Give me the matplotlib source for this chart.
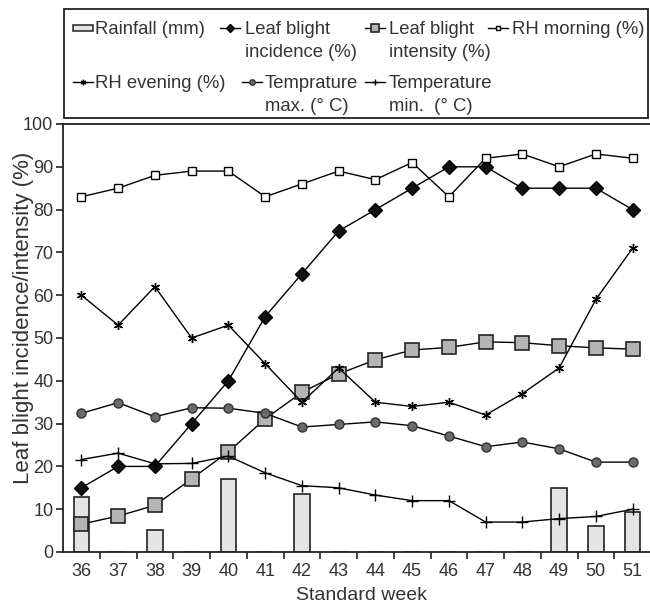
import matplotlib.pyplot as plt
import numpy as np
from matplotlib.lines import Line2D
from matplotlib.patches import Rectangle

plt.rcParams['font.family'] = ['Liberation Sans', 'DejaVu Sans']

weeks = [36, 37, 38, 39, 40, 41, 42, 43, 44, 45, 46, 47, 48, 49, 50, 51]
rainfall = [12.9, 0, 5.1, 0, 17.1, 0, 13.6, 0, 0, 0, 0, 0, 0, 15.0, 6.1, 9.3]
incidence = [15, 20, 20, 30, 40, 55, 65, 75, 80, 85, 90, 90, 85, 85, 85, 80]
intensity = [6.5, 8.4, 10.9, 17.1, 23.4, 31.1, 37.3, 41.6, 44.9, 47.2, 47.8, 49.1, 48.9, 48.2, 47.7, 47.4]
rh_morning = [83, 85, 88, 89, 89, 83, 86, 89, 87, 91, 83, 92, 93, 90, 93, 92]
rh_evening = [60, 53, 62, 50, 53, 44, 35, 43, 35, 34, 35, 32, 37, 43, 59, 71]
tmax = [32.4, 34.9, 31.6, 33.7, 33.6, 32.4, 29.2, 29.8, 30.4, 29.5, 27.1, 24.6, 25.7, 24.1, 21.0, 21.0]
tmin = [21.6, 23.1, 20.6, 20.7, 22.4, 18.5, 15.5, 15.0, 13.3, 12.0, 12.0, 7.0, 7.0, 7.8, 8.3, 10.0]

W, H = 650, 607
fig = plt.figure(figsize=(W / 100, H / 100), dpi=100)
ax = fig.add_axes([63 / W, 1 - 552 / H, (651 - 63) / W, (552 - 124) / H])

dark = '#222222'
txt = '#333333'

# series styles: (marker, size, face, edge)
styles = {
    'inc': dict(marker='D', ms=7, mfc='#111111', mec='black'),
    'int': dict(marker='s', ms=10, mfc='#b4b4b4', mec=dark, mew=1.2),
    'rhm': dict(marker='s', ms=5.5, mfc='white', mec='black'),
    'rhe': dict(marker=(6, 2, 0), ms=6.5, mec='black'),
    'tmax': dict(marker='o', ms=6.5, mfc='#6a6a6a', mec='#333333'),
    'tmin': dict(marker='+', ms=8, mec='black'),
}

ax.bar(weeks, rainfall, width=0.42, color='#e4e4e4', edgecolor=dark, lw=1.2, zorder=1)
ax.plot(weeks, incidence, color='black', lw=1, zorder=3, **styles['inc'])
ax.plot(weeks, intensity, color='black', lw=1, zorder=3, **styles['int'])
ax.plot(weeks, rh_morning, color='black', lw=1, zorder=3, **styles['rhm'])
ax.plot(weeks, rh_evening, color='black', lw=1, zorder=3, **styles['rhe'])
ax.plot(weeks, tmax, color='black', lw=1, zorder=3, **styles['tmax'])
ax.plot(weeks, tmin, color='black', lw=1, zorder=3, **styles['tmin'])

ax.set_xlim(35.5, 51.5)
ax.set_ylim(0, 100)
ax.set_yticks(np.arange(0, 101, 10))
ax.set_xticks(weeks)
ax.set_xticks(np.arange(36.5, 51.5, 1), minor=True)
ax.tick_params(axis='x', which='major', length=0, labelsize=13, colors=txt, pad=8)
ax.tick_params(axis='x', which='minor', length=5, width=1.2, color=dark)
ax.tick_params(axis='y', length=5, width=1.2, labelsize=13, colors=txt, pad=2)
ax.tick_params(axis='y', color=dark)
for s in ax.spines.values():
    s.set_linewidth(1.3)
    s.set_color(dark)
ax.spines['right'].set_visible(False)

ax.set_xlabel('Standard week', fontsize=14, color=txt)
ax.xaxis.set_label_coords((361 - 63) / 588, -(587 - 552) / 428)
ax.set_ylabel('Leaf blight incidence/intensity (%)', fontsize=16, color=txt)
ax.yaxis.set_label_coords((34 - 63) / 588, (552 - 318) / 428)


# hand-placed legend box, laid out like the original
def fx(px):
    return px / W


def fy(py):
    return 1 - py / H


frame = Rectangle((fx(64), fy(118)), fx(648) - fx(64), fy(9) - fy(118),
                  transform=fig.transFigure, fill=False, ec=dark, lw=1.3)
fig.add_artist(frame)

rows = [28, 82]
entries = [
    ('bar', 73, 95, rows[0], 'Rainfall (mm)'),
    ('inc', 220, 245, rows[0], 'Leaf blight\nincidence (%)'),
    ('int', 365, 389, rows[0], 'Leaf blight\nintensity (%)'),
    ('rhm', 488, 512, rows[0], 'RH morning (%)'),
    ('rhe', 73, 95, rows[1], 'RH evening (%)'),
    ('tmax', 242, 265, rows[1], 'Temprature\nmax. (\u00b0 C)'),
    ('tmin', 365, 389, rows[1], 'Temperature\nmin.  (\u00b0 C)'),
]
for key, hx, tx, ry, label in entries:
    if key == 'bar':
        fig.add_artist(Rectangle((fx(hx), fy(ry + 3)), fx(hx + 20) - fx(hx), fy(ry - 3) - fy(ry + 3),
                                 transform=fig.transFigure, fc='#e4e4e4', ec=dark, lw=1.1))
    else:
        st = dict(styles[key])
        st['ms'] = st['ms'] * 0.6
        fig.add_artist(Line2D([fx(hx), fx(hx + 10), fx(hx + 20)], [fy(ry)] * 3,
                              transform=fig.transFigure, color='black', lw=1,
                              markevery=[1], **st))
    fig.text(fx(tx), fy(ry - 7), label, ha='left', va='top', fontsize=13.3,
             color=txt, linespacing=1.45)

fig.savefig('out.png', dpi=100)
